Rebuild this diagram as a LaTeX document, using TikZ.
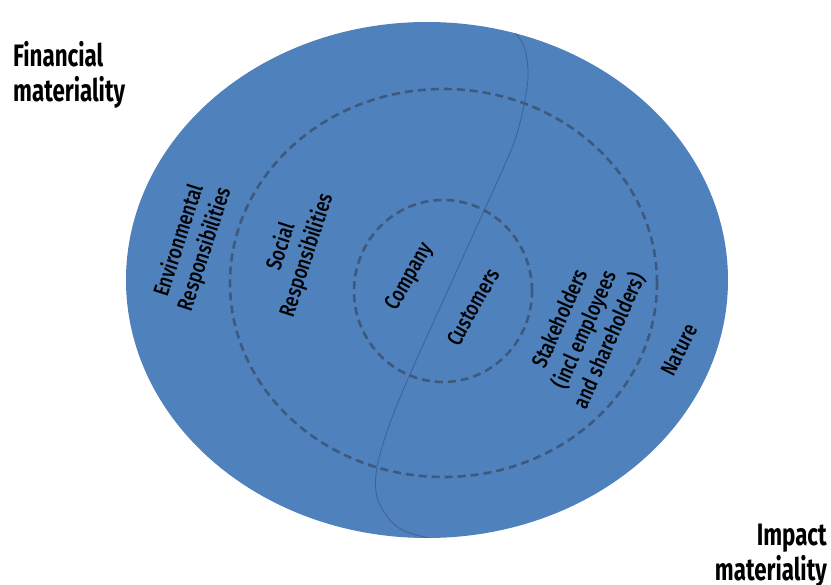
\documentclass[tikz,border=0pt]{standalone}
\usepackage{fontspec}
\setmainfont[FakeStretch=0.8]{Fira Sans Medium}
\newfontfamily\titlefont[FakeStretch=0.72]{Fira Sans Bold}
\definecolor{fillblue}{HTML}{4F81BD}
\definecolor{dashcol}{HTML}{3C5A80}
\definecolor{curvecol}{HTML}{3F6192}
\tikzset{
  lbl/.style={align=center, inner sep=0pt, text=black, font=\fontsize{22}{27}\selectfont},
  ttl/.style={inner sep=0pt, text=black, font=\fontsize{31}{35}\selectfont\titlefont},
  ring/.style={draw=dashcol, line width=2.6pt, dash pattern=on 8pt off 5pt},
}
\begin{document}
\begin{tikzpicture}[x=1pt,y=1pt]
\useasboundingbox (0,0) rectangle (831,-585);
% outer disc
\fill[fillblue] (427,-280) ellipse [x radius=301pt, y radius=258pt];
% S-shaped divider
\begin{scope}
\clip (427,-280) ellipse [x radius=301pt, y radius=258pt];
\draw[curvecol, line width=0.8pt] plot[smooth, tension=0.55] coordinates {
 (500,-18) (522,-42) (528,-70) (525,-100) (515,-140) (498,-180) (483,-213)
 (448,-290) (411,-372) (390,-423) (377,-467) (377,-497) (390,-520) (407,-532) (445,-542)};
\end{scope}
% dashed rings
\draw[ring] (443.5,-283) ellipse [x radius=213.5pt, y radius=194pt];
\draw[ring] (443,-291) ellipse [x radius=89pt, y radius=91pt];
% labels
\node[lbl, rotate=72] (env) at (192,-245) {Environmental\\Responsibilities};
\node[lbl, rotate=72] (soc) at (294,-251) {Social\\Responsibilities};
\node[lbl, rotate=60] (comp) at (410,-277) {Company};
\node[lbl, rotate=61] (cust) at (473,-307) {Customers};
\node[lbl, rotate=66] (stake) at (585,-330) {Stakeholders\\(incl employees\\and shareholders)};
\node[lbl, rotate=63] (nat) at (679,-350) {Nature};
% titles
\node[ttl, anchor=base west, align=left] (fin) at (13,-102) {Financial\\materiality};
\node[ttl, anchor=base east, align=right] (imp) at (827,-580) {Impact\\materiality};
\end{tikzpicture}
\end{document}
